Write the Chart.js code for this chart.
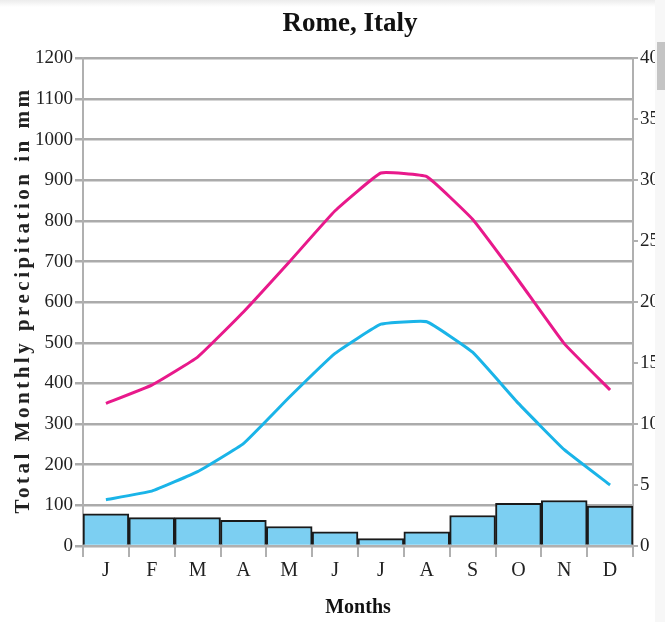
<!DOCTYPE html>
<html>
<head>
<meta charset="utf-8">
<script src="https://cdn.jsdelivr.net/npm/chart.js@4"></script>
<style>
  html, body { margin: 0; padding: 0; background: #fff; overflow: hidden; }
  #wrap { position: relative; width: 665px; height: 622px; overflow: hidden; }
  #grafico { position: absolute; left: 0; top: 0; }
  #topo { position: absolute; left: 0; top: 0; width: 665px; height: 7px; background: linear-gradient(#ececec, #fff); }
  #trilho { position: absolute; left: 655px; top: 0; width: 10px; height: 622px; background: #f7f7f7; }
  #barra { position: absolute; left: 657px; top: 42px; width: 8px; height: 48px; background: #c4c4c4; }
</style>
</head>
<body>
<div id="wrap">
  <canvas id="grafico" width="700" height="622"></canvas>
  <div id="topo"></div>
  <div id="trilho"></div>
  <div id="barra"></div>
</div>
<script>
// dados do grafico (Roma)
var meses = ['J', 'F', 'M', 'A', 'M', 'J', 'J', 'A', 'S', 'O', 'N', 'D'];
var precipitacao = [79, 70, 70, 63, 48, 35, 18, 35, 75, 105, 112, 98];   // mm
var tempMax = [11.7, 13.2, 15.5, 19.2, 23.3, 27.5, 30.6, 30.3, 26.8, 21.8, 16.6, 12.8]; // C
var tempMin = [3.8, 4.5, 6.1, 8.4, 12.2, 15.8, 18.2, 18.4, 15.9, 11.7, 7.9, 5.0];   // C

var fonte = "'Liberation Serif', 'Times New Roman', serif";

// titulo do eixo y desenhado a mao, com espacamento entre letras
var tituloEixoY = {
    id: 'tituloEixoY',
    afterDraw: function (chart) {
        var ctx = chart.ctx;
        ctx.save();
        ctx.translate(24, 300);
        ctx.rotate(-Math.PI / 2);
        ctx.font = 'bold 21px ' + fonte;
        ctx.letterSpacing = '3.5px';
        ctx.fillStyle = '#222';
        ctx.textAlign = 'center';
        ctx.textBaseline = 'middle';
        ctx.fillText('Total Monthly precipitation in mm', 0, 0);
        ctx.restore();
    }
};

const config = {
    type: 'bar',
    data: {
        labels: meses,
        datasets: [{
            type: 'line',
            label: 'Max',
            data: tempMax,
            yAxisID: 'y1',
            borderColor: '#e8198b',
            borderWidth: 3,
            pointRadius: 0,
            tension: 0.1,
            order: 0
        }, {
            type: 'line',
            label: 'Min',
            data: tempMin,
            yAxisID: 'y1',
            borderColor: '#1ab4e8',
            borderWidth: 3,
            pointRadius: 0,
            tension: 0.1,
            order: 0
        }, {
            type: 'bar',
            label: 'Precipitacao',
            data: precipitacao,
            yAxisID: 'y',
            backgroundColor: '#7ccff2',
            borderColor: '#1a1a1a',
            borderWidth: 2,
            barPercentage: 1,
            categoryPercentage: 1,
            order: 1
        }]
    },
    options: {
        responsive: false,
        animation: false,
        layout: { padding: 0 },
        plugins: {
            legend: { display: false },
            tooltip: { enabled: false },
            title: {
                display: true,
                text: 'Rome, Italy',
                color: '#111',
                font: { family: fonte, size: 27, weight: 'bold' },
                padding: { top: 8, bottom: 18 }
            }
        },
        scales: {
            x: {
                afterFit: function (scale) { scale.height = 76; },
                grid: {
                    offset: true,
                    drawOnChartArea: false,
                    color: '#b0b0b0',
                    lineWidth: 2,
                    tickLength: 11
                },
                border: { color: '#b0b0b0', width: 2 },
                ticks: {
                    color: '#222',
                    font: { family: fonte, size: 20 },
                    padding: 2
                },
                title: {
                    display: true,
                    text: 'Months',
                    color: '#111',
                    font: { family: fonte, size: 20, weight: 'bold' },
                    padding: { top: 0, bottom: 2 }
                }
            },
            y: {
                position: 'left',
                min: 0,
                max: 1200,
                afterFit: function (scale) { scale.width = 83; },
                grid: {
                    color: '#ababab',
                    lineWidth: 2.5,
                    tickLength: 8
                },
                border: { color: '#b0b0b0', width: 2 },
                ticks: {
                    stepSize: 100,
                    color: '#222',
                    font: { family: fonte, size: 19 },
                    padding: 2,
                    callback: function (valor) { return String(valor); }
                }
            },
            y1: {
                position: 'right',
                min: 0,
                max: 40,
                afterFit: function (scale) { scale.width = 67; },
                grid: {
                    drawOnChartArea: false,
                    color: '#b0b0b0',
                    lineWidth: 2,
                    tickLength: 5
                },
                border: { color: '#b0b0b0', width: 2 },
                ticks: {
                    stepSize: 5,
                    color: '#222',
                    font: { family: fonte, size: 19 },
                    padding: 2,
                    callback: function (valor) { return String(valor); }
                }
            }
        }
    },
    plugins: [tituloEixoY]
};

let myChart = new Chart(document.getElementById('grafico'), config);
</script>
</body>
</html>
